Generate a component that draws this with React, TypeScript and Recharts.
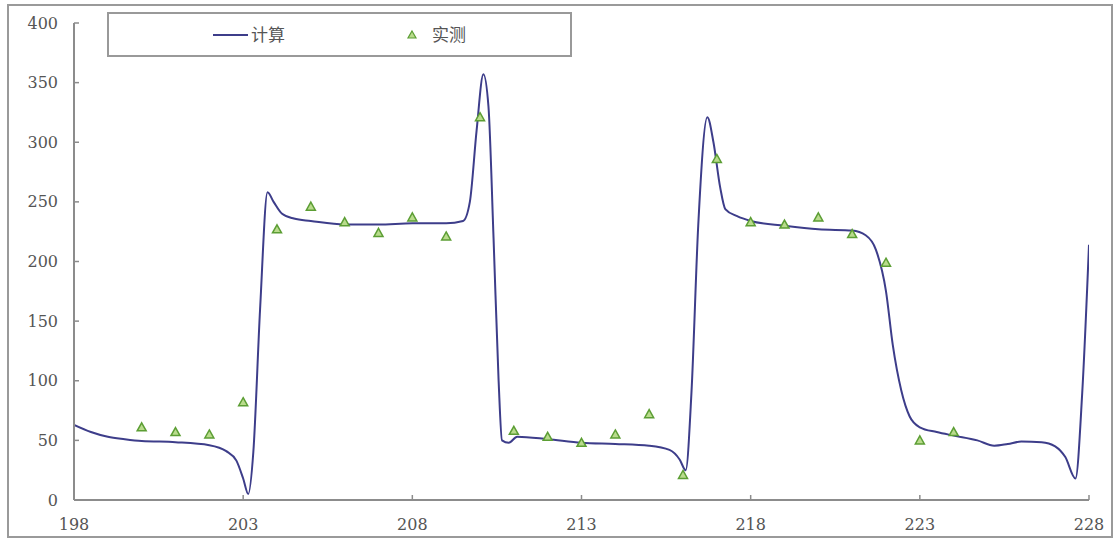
import React from 'react'
import { ComposedChart, Line, Scatter, XAxis, YAxis, Legend } from 'recharts'

// computed curve (x, value)
const calcX = [198, 198.5, 199, 199.5, 200, 201, 202, 202.5, 202.8, 203.0, 203.15, 203.3, 203.5, 203.72, 203.9, 204.15, 204.5, 205, 206, 207, 208, 209, 209.5, 209.7, 209.9, 210.1, 210.25, 210.4, 210.55, 210.65, 210.85, 211.1, 212, 213, 214, 215, 215.6, 215.9, 216.08, 216.25, 216.45, 216.72, 216.9, 217.1, 217.25, 217.6, 218, 219, 220, 221, 221.4, 221.7, 222.0, 222.2, 222.45, 222.7, 223, 223.5, 224, 224.7, 225.2, 225.6, 226, 226.6, 227, 227.3, 227.6, 227.8, 228]
const calcY = [63, 57, 53, 51, 49.5, 48.5, 46, 41, 33, 18, 5, 40, 160, 258, 250, 240, 236, 234, 231, 231, 232, 232, 234, 250, 310, 357, 330, 220, 100, 50, 48, 53, 51, 48, 47, 45.5, 42, 34, 25, 90, 230, 321, 300, 262, 244, 238, 234, 230, 227, 226, 222, 210, 175, 130, 92, 70, 61, 57, 54, 50, 45.5, 47, 49, 48.5, 45, 36, 18, 90, 214]

// measured points
const measX = [200, 201, 202, 203, 204, 205, 206, 207, 208, 209, 210, 211, 212, 213, 214, 215, 216, 217, 218, 219, 220, 221, 222, 223, 224]
const measY = [61, 57, 55, 82, 227, 246, 233, 224, 237, 221, 321, 58, 53, 48, 55, 72, 21, 286, 233, 231, 237, 223, 199, 50, 57]

const xTicks = [198, 203, 208, 213, 218, 223, 228]
const yTicks = [0, 50, 100, 150, 200, 250, 300, 350, 400]

const LINE = '#3d3d8a'
const TRI_FILL = '#b9db8c'
const TRI_STROKE = '#5c9e34'
const AXIS = '#8c8c8c'
const TEXT = '#555'

const calcData = calcX.map((x, i) => ({ x, y: calcY[i] }))
const measData = measX.map((x, i) => ({ x, y: measY[i] }))

const Tri = ({ cx, cy }: any) => (
  <polygon points={`${cx},${cy - 4.5} ${cx + 4.5},${cy + 3.5} ${cx - 4.5},${cy + 3.5}`}
           fill={TRI_FILL} stroke={TRI_STROKE} strokeWidth={1.5} />
)

const XTick = ({ x, y, payload }: any) => (
  <g>
    <line x1={x} y1={y} x2={x} y2={y - 5} stroke={AXIS} strokeWidth={1.5} />
    <text x={x} y={y + 24} dy="0.35em" textAnchor="middle" fill={TEXT}
          fontFamily="DejaVu Serif" fontSize={16}>{payload.value}</text>
  </g>
)

const YTick = ({ x, y, payload }: any) => (
  <g>
    <line x1={x} y1={y} x2={x + 5} y2={y} stroke={AXIS} strokeWidth={1.5} />
    <text x={x - 16} y={y} dy="0.35em" textAnchor="end" fill={TEXT}
          fontFamily="DejaVu Serif" fontSize={16}>{payload.value}</text>
  </g>
)

const LegendBox = () => (
  <svg width={465} height={45} style={{ display: 'block' }}>
    <rect x={1} y={1} width={463} height={43} fill="#fff" stroke="#999" strokeWidth={2} />
    <line x1={106} y1={23} x2={141} y2={23} stroke={LINE} strokeWidth={2} />
    <text x={144} y={23} dy="0.35em" fill={TEXT} fontFamily="Noto Sans CJK SC" fontSize={17}>计算</text>
    <polygon points="305,19 309,26 301,26" fill={TRI_FILL} stroke={TRI_STROKE} strokeWidth={1.2} />
    <text x={325} y={23} dy="0.35em" fill={TEXT} fontFamily="Noto Sans CJK SC" fontSize={17}>实测</text>
  </svg>
)

export default function App() {
  return (
    <div style={{ position: 'absolute', left: 0, top: 0, width: 1115, height: 539, background: '#fff' }}>
      <div style={{ position: 'absolute', left: 7, top: 4, width: 1106, height: 534,
                    border: '2px solid #9a9a9a', boxSizing: 'border-box' }} />
      <div style={{ position: 'absolute', left: 0, top: 0 }}>
        <ComposedChart width={1115} height={539} margin={{ top: 23, right: 26, bottom: 9, left: 34 }}>
          <XAxis type="number" dataKey="x" domain={[198, 228]} ticks={xTicks} allowDataOverflow
                 height={30} tickSize={0} tickMargin={0} tick={<XTick />}
                 axisLine={{ stroke: AXIS, strokeWidth: 2 }} tickLine={false} />
          <YAxis type="number" dataKey="y" domain={[0, 400]} ticks={yTicks} allowDataOverflow
                 width={40} tickSize={0} tickMargin={0} tick={<YTick />}
                 axisLine={{ stroke: AXIS, strokeWidth: 2 }} tickLine={false} />
          <Legend layout="vertical" align="center" verticalAlign="middle" content={<LegendBox />}
                  wrapperStyle={{ position: 'absolute', left: 107, top: 12, width: 465, height: 45 }} />
          <Line data={calcData} dataKey="y" type="monotone" stroke={LINE} strokeWidth={2}
                dot={false} activeDot={false} isAnimationActive={false} legendType="none" />
          <Scatter data={measData} dataKey="y" shape={<Tri />} isAnimationActive={false} legendType="none" />
        </ComposedChart>
      </div>
    </div>
  )
}
